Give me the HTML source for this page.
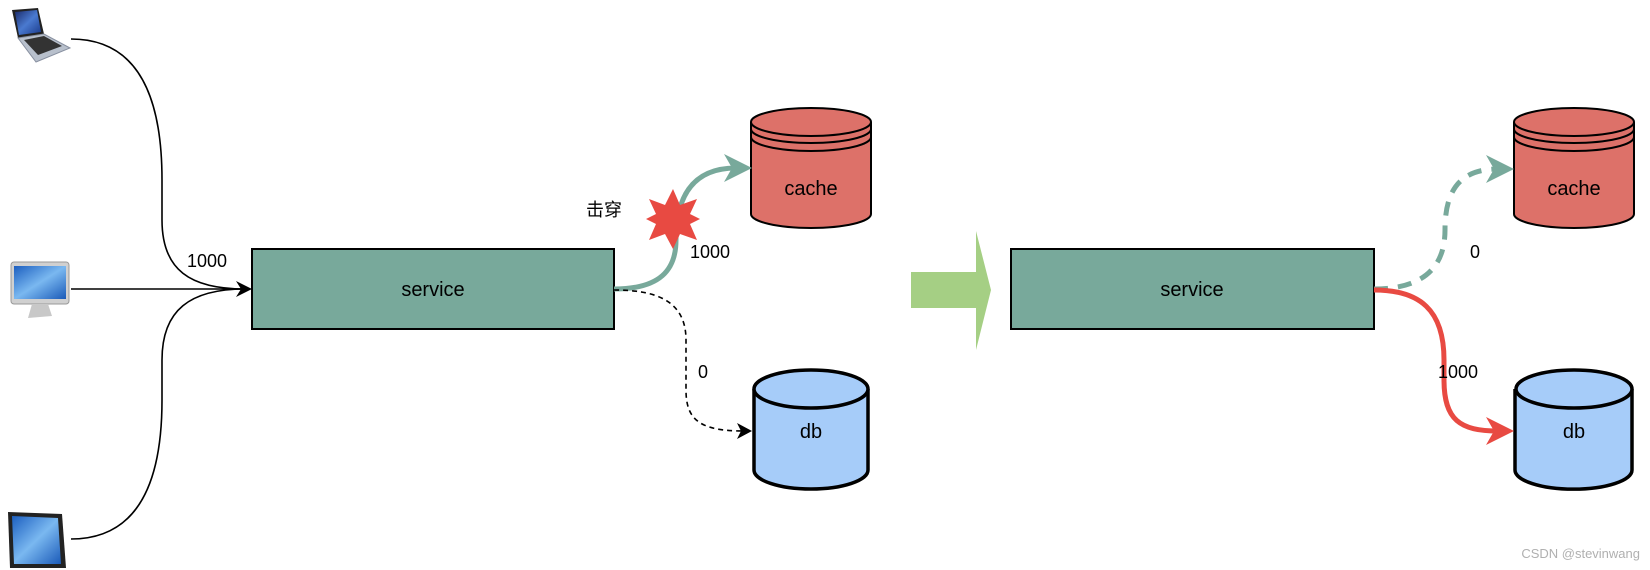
<!DOCTYPE html>
<html><head><meta charset="utf-8"><style>
html,body{margin:0;padding:0;background:#fff;}
svg{display:block;}
text{font-family:"Liberation Sans","Noto Sans CJK SC",sans-serif;}
</style></head><body>
<svg width="1650" height="570" viewBox="0 0 1650 570" xmlns="http://www.w3.org/2000/svg">
<defs>
<linearGradient id="scr" x1="0" y1="0" x2="1" y2="1"><stop offset="0" stop-color="#1a2a6a"/><stop offset="0.5" stop-color="#4a7ad0"/><stop offset="1" stop-color="#1a3a8a"/></linearGradient>
<linearGradient id="scr2" x1="0" y1="0" x2="1" y2="1"><stop offset="0" stop-color="#1c5fc0"/><stop offset="0.5" stop-color="#7ab8f0"/><stop offset="1" stop-color="#1a5ab8"/></linearGradient>
</defs>
<!-- laptop -->
<polygon points="12,10 38,8 44,34 18,38" fill="#222"/>
<polygon points="15,12 37,10 41,32 19,35" fill="url(#scr)"/>
<polygon points="18,38 44,34 70,48 36,62" fill="#b8c0cc" stroke="#8890a0"/>
<polygon points="24,40 44,36 62,46 38,55" fill="#333"/>
<!-- monitor -->
<rect x="11" y="262" width="58" height="42" rx="3" fill="#d0d0d0" stroke="#999"/>
<rect x="14" y="266" width="52" height="33" fill="url(#scr2)"/>
<polygon points="32,304 48,304 52,316 28,318" fill="#c8c8c8"/>
<!-- tablet -->
<polygon points="8,512 62,514 66,568 10,568" fill="#222"/>
<polygon points="12,516 58,518 61,564 14,564" fill="url(#scr2)"/>
<!-- left connectors -->
<g fill="none" stroke="#000" stroke-width="1.6">
<path d="M71,39 C150,39 162,120 162,180 L162,220 C162,270 190,289 245,289"/>
<path d="M71,289 L245,289"/>
<path d="M71,539 C150,539 162,460 162,400 L162,360 C162,310 190,289 245,289"/>
</g>
<polygon points="252,289 236,281 241,289 236,297" fill="#000"/>
<text x="187" y="267" font-size="18">1000</text>
<!-- service 1 -->
<rect x="252" y="249" width="362" height="80" fill="#78a99b" stroke="#000" stroke-width="2"/>
<text x="433" y="296" font-size="20" text-anchor="middle">service</text>
<!-- cache 1 -->
<g stroke="#000" stroke-width="2">
<path d="M751,122 L751,214 A60,14 0 0 0 871,214 L871,122" fill="#dd7169"/>
<ellipse cx="811" cy="122" rx="60" ry="14" fill="#dd7169"/>
<path d="M751,129 A60,14 0 0 0 871,129 M751,137 A60,14 0 0 0 871,137" fill="none"/>
</g>
<text x="811" y="195" font-size="20" text-anchor="middle">cache</text>
<!-- db 1 -->
<g stroke="#000" stroke-width="3.5">
<path d="M754,389 L754,470 A57,19 0 0 0 868,470 L868,389" fill="#a6ccf9"/>
<ellipse cx="811" cy="389" rx="57" ry="19" fill="#a6ccf9"/>
</g>
<text x="811" y="438" font-size="20" text-anchor="middle">db</text>
<!-- green arc -->
<path d="M614,289 C660,289 676,270 676,240 C676,200 690,168 736,168" fill="none" stroke="#78a99b" stroke-width="5"/>
<polygon points="752,168 724,154 732,168 724,182" fill="#78a99b"/>
<!-- star -->
<polygon points="673,189 680,205 697,199 690,214 700,219 690,224 697,240 680,234 673,249 665,234 649,240 656,224 646,219 656,214 649,199 665,205" fill="#e84a42"/>
<text x="586" y="216" font-size="18">击穿</text>
<text x="690" y="258" font-size="18">1000</text>
<!-- dashed -->
<path d="M614,290 C655,290 686,300 686,340 L686,390 C686,420 700,431 744,431" fill="none" stroke="#000" stroke-width="1.6" stroke-dasharray="5,4"/>
<polygon points="752,431 737,423 741,431 737,439" fill="#000"/>
<text x="698" y="378" font-size="18">0</text>
<!-- big arrow -->
<polygon points="911,272 976,272 976,231 991,290 976,350 976,308 911,308" fill="#a5cf84"/>
<!-- service 2 -->
<rect x="1011" y="249" width="363" height="80" fill="#78a99b" stroke="#000" stroke-width="2"/>
<text x="1192" y="296" font-size="20" text-anchor="middle">service</text>
<!-- cache 2 -->
<g stroke="#000" stroke-width="2">
<path d="M1514,122 L1514,214 A60,14 0 0 0 1634,214 L1634,122" fill="#dd7169"/>
<ellipse cx="1574" cy="122" rx="60" ry="14" fill="#dd7169"/>
<path d="M1514,129 A60,14 0 0 0 1634,129 M1514,137 A60,14 0 0 0 1634,137" fill="none"/>
</g>
<text x="1574" y="195" font-size="20" text-anchor="middle">cache</text>
<!-- db 2 -->
<g stroke="#000" stroke-width="3.5">
<path d="M1515,389 L1515,470 A58,19 0 0 0 1632,470 L1632,389" fill="#a6ccf9"/>
<ellipse cx="1574" cy="389" rx="58" ry="19" fill="#a6ccf9"/>
</g>
<text x="1574" y="438" font-size="20" text-anchor="middle">db</text>
<!-- dashed green -->
<path d="M1374,289 C1420,289 1445,270 1445,230 C1445,190 1460,169 1498,169" fill="none" stroke="#78a99b" stroke-width="5" stroke-dasharray="14,10"/>
<polygon points="1514,169 1486,155 1494,169 1486,183" fill="#78a99b"/>
<text x="1470" y="258" font-size="18">0</text>
<!-- red -->
<path d="M1374,290 C1420,290 1444,310 1444,360 L1444,380 C1444,420 1460,431 1498,431" fill="none" stroke="#e84a42" stroke-width="5"/>
<polygon points="1514,431 1486,417 1494,431 1486,445" fill="#e84a42"/>
<text x="1438" y="378" font-size="18">1000</text>
<text x="1640" y="558" font-size="13" fill="#b0b0b0" text-anchor="end">CSDN @stevinwang</text>
</svg>
</body></html>
